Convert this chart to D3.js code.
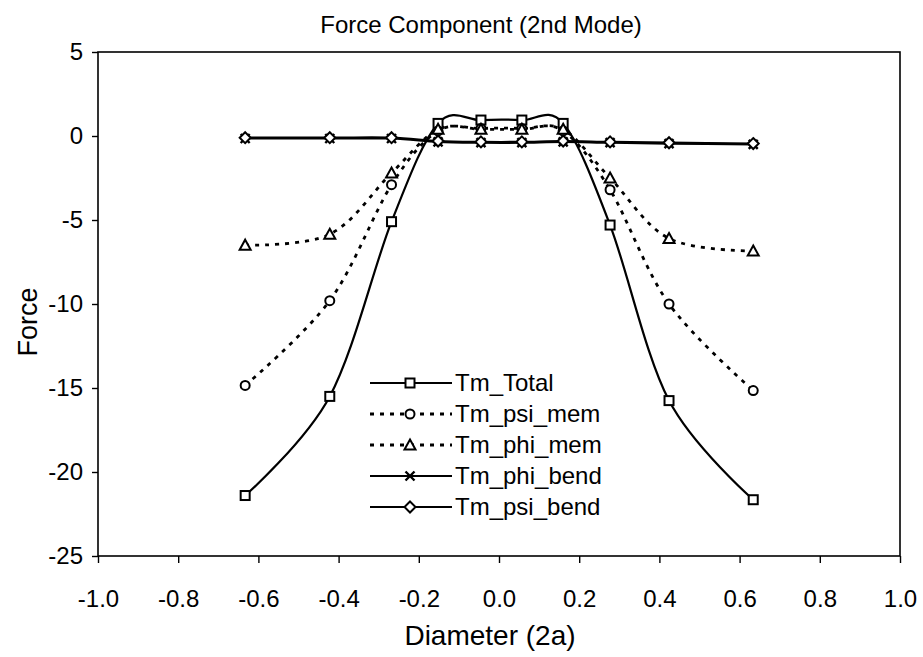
<!DOCTYPE html>
<html><head><meta charset="utf-8">
<script src="https://cdn.jsdelivr.net/npm/d3@7"></script>
<style>
body{margin:0;background:#fff;}
text{font-family:"Liberation Sans",Arial,sans-serif;fill:#000;}
</style></head>
<body><svg id="chart" width="923" height="657"></svg>
<script>
const xValues = [-0.633, -0.422, -0.268, -0.152, -0.045, 0.057, 0.160, 0.277, 0.424, 0.634];
const tmTotal   = [-21.4, -15.5, -5.1, 0.75, 0.95, 0.95, 0.75, -5.3, -15.75, -21.65];
const tmPsiMem  = [-14.85, -9.8, -2.9, 0.3, 0.45, 0.45, 0.3, -3.2, -10.0, -15.15];
const tmPhiMem  = [-6.5, -5.85, -2.2, 0.4, 0.4, 0.4, 0.4, -2.5, -6.1, -6.85];
const tmPhiBend = [-0.15, -0.15, -0.15, -0.35, -0.4, -0.4, -0.35, -0.4, -0.45, -0.5];
const tmPsiBend = [-0.1, -0.1, -0.1, -0.3, -0.35, -0.35, -0.3, -0.35, -0.4, -0.45];
const seriesNames = ["Tm_Total", "Tm_psi_mem", "Tm_phi_mem", "Tm_phi_bend", "Tm_psi_bend"];
const xTicks = [-1.0, -0.8, -0.6, -0.4, -0.2, 0.0, 0.2, 0.4, 0.6, 0.8, 1.0];
const yTicks = [5, 0, -5, -10, -15, -20, -25];
const titleText = "Force Component (2nd Mode)";
const xTitle = "Diameter (2a)";
const yTitle = "Force";

const series = [
  {name: seriesNames[0], values: tmTotal,   dashed: false, marker: "square"},
  {name: seriesNames[1], values: tmPsiMem,  dashed: true,  marker: "circle"},
  {name: seriesNames[2], values: tmPhiMem,  dashed: true,  marker: "triangle"},
  {name: seriesNames[3], values: tmPhiBend, dashed: false, marker: "cross"},
  {name: seriesNames[4], values: tmPsiBend, dashed: false, marker: "diamond"}
];

const svg = d3.select("#chart");
const L = 98, R = 900, T = 52, B = 556;
const x = d3.scaleLinear().domain([-1, 1]).range([L, R]);
const y = d3.scaleLinear().domain([-25, 5]).range([B, T]);
const hy = s => s.replace("\u2212", "-");

svg.append("rect").attr("x", L).attr("y", T).attr("width", R - L).attr("height", B - T)
  .attr("fill", "none").attr("stroke", "#000").attr("stroke-width", 1.6);

const xAxis = svg.append("g").attr("transform", `translate(0,${B})`)
  .call(d3.axisBottom(x).tickValues(xTicks).tickFormat(d => hy(d3.format(".1f")(d))).tickSize(7).tickPadding(27));
const yAxis = svg.append("g").attr("transform", `translate(${L},0)`)
  .call(d3.axisLeft(y).tickValues(yTicks).tickFormat(d => hy(d3.format("d")(d))).tickSize(6).tickPadding(9));
[xAxis, yAxis].forEach(a => {
  a.select(".domain").remove();
  a.selectAll("line").attr("stroke", "#000").attr("stroke-width", 1.4);
  a.selectAll("text").style("font-family", '"Liberation Sans",Arial,sans-serif')
    .style("font-size", "24px").attr("fill", "#000");
});

svg.append("text").attr("x", 481).attr("y", 33).attr("text-anchor", "middle")
  .style("font-size", "24px").text(titleText);
svg.append("text").attr("x", 490).attr("y", 645).attr("text-anchor", "middle")
  .style("font-size", "28px").text(xTitle);
svg.append("text").attr("transform", `translate(37,322) rotate(-90)`)
  .attr("text-anchor", "middle").style("font-size", "27px").text(yTitle);

const line = d3.line().x(d => x(d[0])).y(d => y(d[1])).curve(d3.curveCatmullRom.alpha(0));

function drawMarker(g, type, cx, cy) {
  const s = g.append("g").attr("transform", `translate(${cx},${cy})`);
  let m;
  if (type === "square") m = s.append("rect").attr("x", -4.5).attr("y", -4.5).attr("width", 9).attr("height", 9);
  else if (type === "circle") m = s.append("circle").attr("r", 4.5);
  else if (type === "triangle") m = s.append("path").attr("d", "M0,-5.5L5.5,4.5L-5.5,4.5Z");
  else if (type === "diamond") m = s.append("path").attr("d", "M0,-5.5L5.5,0L0,5.5L-5.5,0Z");
  else m = s.append("path").attr("d", "M-4.5,-4.5L4.5,4.5M4.5,-4.5L-4.5,4.5");
  m.attr("fill", type === "cross" ? "none" : "#fff").attr("stroke", "#000")
   .attr("stroke-width", type === "cross" ? 2.4 : 2);
}

const plot = svg.append("g");
series.forEach(s => {
  const pts = xValues.map((xv, i) => [xv, s.values[i]]);
  plot.append("path").attr("d", line(pts)).attr("fill", "none").attr("stroke", "#000")
    .attr("stroke-width", s.dashed ? 2.8 : 2.2)
    .attr("stroke-dasharray", s.dashed ? "4,6" : null);
});
series.forEach(s => {
  const g = plot.append("g");
  xValues.forEach((xv, i) => drawMarker(g, s.marker, x(xv), y(s.values[i])));
});

const legY0 = 383, legStep = 31;
series.forEach((s, i) => {
  const ly = legY0 + i * legStep;
  const g = svg.append("g");
  g.append("line").attr("x1", 370).attr("x2", 452).attr("y1", ly).attr("y2", ly)
    .attr("stroke", "#000").attr("stroke-width", s.dashed ? 2.8 : 2.2)
    .attr("stroke-dasharray", s.dashed ? "4,6" : null);
  drawMarker(g, s.marker, 410, ly);
  g.append("text").attr("x", 455).attr("y", ly).attr("dy", "0.35em")
    .style("font-size", "24px").text(s.name);
});
</script></body></html>
